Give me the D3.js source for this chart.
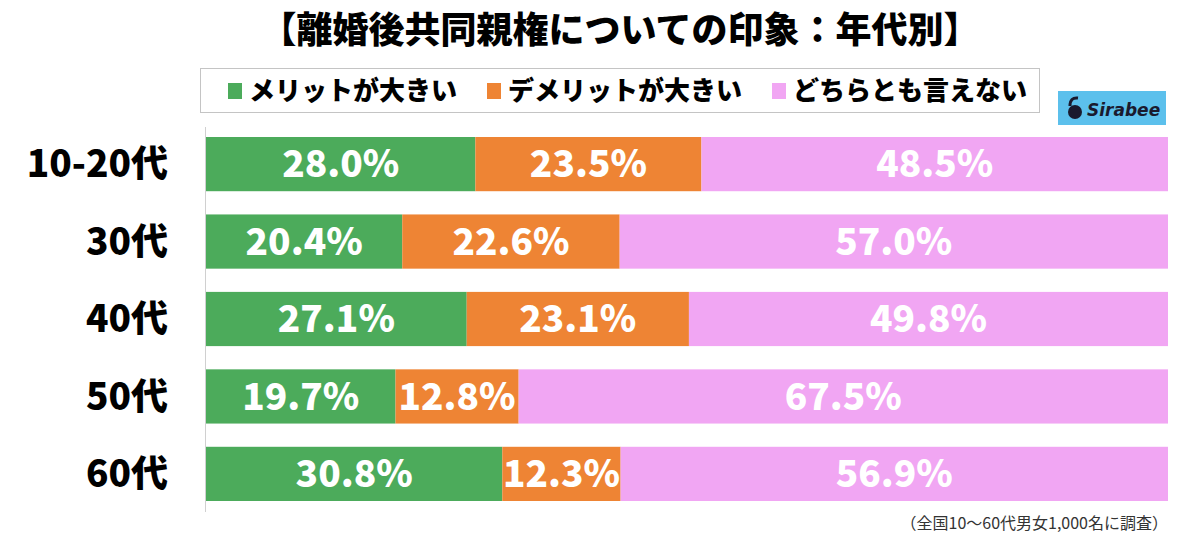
<!DOCTYPE html>
<html>
<head>
<meta charset="utf-8">
<script src="https://cdn.jsdelivr.net/npm/d3@7"></script>
<style>
  body { margin: 0; background: #fff; }
  svg { display: block; font-family: "Noto Sans CJK JP", "Noto Sans", sans-serif; }
</style>
</head>
<body>
<div id="chart"></div>
<script>
// Data
const ageGroups = ["10-20代", "30代", "40代", "50代", "60代"];
const seriesNames = ["メリットが大きい", "デメリットが大きい", "どちらとも言えない"];
const meritValues = [28.0, 20.4, 27.1, 19.7, 30.8];
const demeritValues = [23.5, 22.6, 23.1, 12.8, 12.3];
const neitherValues = [48.5, 57.0, 49.8, 67.5, 56.9];
const seriesColors = ["#4cab5b", "#ee8434", "#f1a6f3"];

const width = 1200, height = 541;
const margin = { top: 137, right: 32, bottom: 40, left: 206 };

const svg = d3.select("#chart").append("svg")
    .attr("width", width)
    .attr("height", height);

// Title
svg.append("text")
    .attr("x", 620)
    .attr("y", 43)
    .attr("text-anchor", "middle")
    .style("font-size", "36px")
    .style("font-weight", "900")
    .text("【離婚後共同親権についての印象：年代別】");

// Build stacked rows
const rows = ageGroups.map((g, i) => ({
    group: g,
    values: [meritValues[i], demeritValues[i], neitherValues[i]]
}));

const x = d3.scaleLinear().domain([0, 100]).range([margin.left, width - margin.right]);
const y = d3.scaleBand().domain(ageGroups)
    .range([margin.top, height - margin.bottom])
    .paddingInner(0.3).paddingOuter(0);

// vertical axis line
svg.append("line")
    .attr("x1", margin.left - 0.5).attr("x2", margin.left - 0.5)
    .attr("y1", 127).attr("y2", 512)
    .attr("stroke", "#d0d0d0")
    .attr("stroke-width", 1);

const rowG = svg.selectAll(".row")
    .data(rows)
    .enter().append("g")
    .attr("class", "row");

rowG.each(function(d) {
    const g = d3.select(this);
    let cum = 0;
    d.values.forEach((v, k) => {
        const x0 = x(cum), x1 = x(cum + v);
        g.append("rect")
            .attr("x", x0)
            .attr("y", y(d.group))
            .attr("width", x1 - x0)
            .attr("height", y.bandwidth())
            .attr("fill", seriesColors[k]);
        g.append("text")
            .attr("x", (x0 + x1) / 2)
            .attr("y", y(d.group) + y.bandwidth() / 2)
            .attr("dy", "0.36em")
            .attr("text-anchor", "middle")
            .style("font-size", "37px")
            .style("font-weight", "900")
            .style("fill", "#fff")
            .text(v.toFixed(1) + "%");
        cum += v;
    });
});

// Category labels
svg.selectAll(".cat")
    .data(ageGroups)
    .enter().append("text")
    .attr("class", "cat")
    .attr("x", 168)
    .attr("y", d => y(d) + y.bandwidth() / 2)
    .attr("dy", "0.36em")
    .attr("text-anchor", "end")
    .style("font-size", "37px")
    .style("font-weight", "900")
    .text(d => d);

// Legend box
svg.append("rect")
    .attr("x", 200.5).attr("y", 68.5)
    .attr("width", 839).attr("height", 44)
    .attr("fill", "none")
    .attr("stroke", "#888")
    .attr("stroke-dasharray", "1,1");

const legendX = [228, 487, 772];
const legend = svg.selectAll(".legend")
    .data(seriesNames)
    .enter().append("g")
    .attr("class", "legend")
    .attr("transform", (d, i) => "translate(" + legendX[i] + ",91)");

legend.append("rect")
    .attr("x", 0).attr("y", -8)
    .attr("width", 14).attr("height", 16)
    .attr("fill", (d, i) => seriesColors[i]);

legend.append("text")
    .attr("x", 21)
    .attr("y", 0)
    .attr("dy", "0.36em")
    .style("font-size", "26px")
    .style("font-weight", "900")
    .text(d => d);

// Sirabee logo
const logo = svg.append("g").attr("transform", "translate(1058,91)");
logo.append("rect")
    .attr("width", 108).attr("height", 34)
    .attr("fill", "#5cc0ec");
logo.append("circle")
    .attr("cx", 17).attr("cy", 21).attr("r", 7)
    .attr("fill", "#1a1a2e");
logo.append("path")
    .attr("d", "M12,15 Q12,6 20,7")
    .attr("fill", "none")
    .attr("stroke", "#1a1a2e")
    .attr("stroke-width", 3);
logo.append("text")
    .attr("x", 29).attr("y", 25)
    .style("font-family", "'DejaVu Sans', sans-serif")
    .style("font-size", "17px")
    .style("font-weight", "bold")
    .style("font-style", "italic")
    .style("fill", "#1a1a2e")
    .text("Sirabee");

// Footnote
svg.append("text")
    .attr("x", 1168)
    .attr("y", 529)
    .attr("text-anchor", "end")
    .style("font-size", "16px")
    .style("fill", "#333")
    .text("（全国10〜60代男女1,000名に調査）");
</script>
</body>
</html>
